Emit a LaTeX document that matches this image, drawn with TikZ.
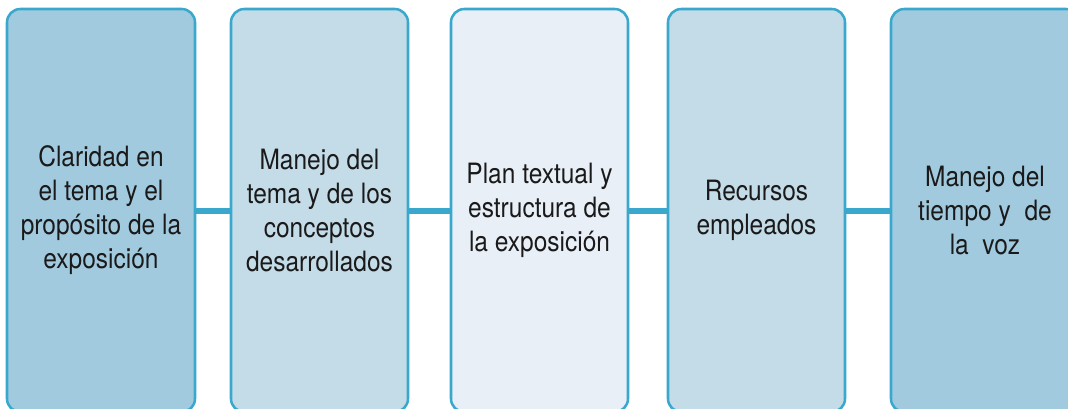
\documentclass[tikz,border=0pt]{standalone}
\usepackage{fontspec}
\setmainfont{TeX Gyre Heros}[FakeStretch=0.875]
\definecolor{edge}{HTML}{3AA8CD}
\definecolor{fillA}{HTML}{A2CADF}
\definecolor{fillB}{HTML}{C4DBE8}
\definecolor{fillC}{HTML}{E8EFF7}
\definecolor{txt}{HTML}{1A1A1A}
\tikzset{
  box/.style={draw=edge, line width=1.9pt, rounded corners=10pt, minimum height=403*0.75pt,
    align=center, text=txt, font=\fontsize{21}{25.5}\selectfont, inner sep=0pt},
  link/.style={draw=edge, line width=4.5pt}
}
\begin{document}
\begin{tikzpicture}[x=0.75pt,y=-0.75pt]
\useasboundingbox (0,0) rectangle (1068,408);
\node[box, fill=fillA, minimum width=188*0.75pt] (b1) at (101,210.5) {Claridad en\\el tema y el\\propósito de la\\exposición};
\node[box, fill=fillB, minimum width=177*0.75pt] (b2) at (319.5,210.5) {Manejo del\\tema y de los\\conceptos\\desarrollados};
\node[box, fill=fillC, minimum width=177*0.75pt] (b3) at (539.5,210.5) {Plan textual y\\estructura de\\la exposición};
\node[box, fill=fillB, minimum width=177*0.75pt] (b4) at (756.5,210.5) {Recursos\\empleados};
\node[box, fill=fillA, minimum width=188*0.75pt] (b5) at (985,210.5) {Manejo del\\tiempo y\ \ de\\la\ \ voz};
\draw[link] (b1.east) -- (b2.west);
\draw[link] (b2.east) -- (b3.west);
\draw[link] (b3.east) -- (b4.west);
\draw[link] (b4.east) -- (b5.west);
\end{tikzpicture}
\end{document}
